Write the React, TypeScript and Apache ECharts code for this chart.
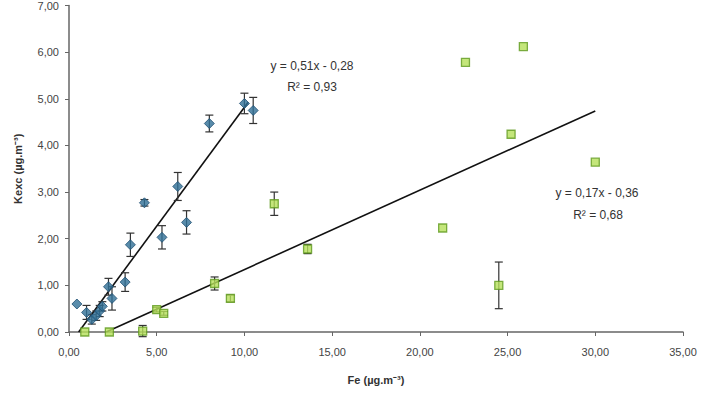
import React, { useEffect, useRef } from "react";
import * as echarts from "echarts";

// Series A (blue diamonds): Fe, Kexc, error half-width
const seriesAFe = [0.45, 1.0, 1.3, 1.55, 1.75, 1.9, 2.25, 2.45, 3.2, 3.5, 4.3, 5.3, 6.2, 6.7, 8.0, 10.0, 10.5];
const seriesAK = [0.6, 0.42, 0.27, 0.35, 0.45, 0.55, 0.97, 0.72, 1.07, 1.87, 2.77, 2.03, 3.12, 2.35, 4.47, 4.9, 4.75];
const seriesAErr = [0, 0.15, 0.1, 0.1, 0.12, 0.1, 0.18, 0.25, 0.2, 0.25, 0.07, 0.25, 0.3, 0.25, 0.18, 0.22, 0.28];

// Series B (green squares): Fe, Kexc, error half-width
const seriesBFe = [0.9, 2.3, 4.2, 5.0, 5.4, 8.3, 9.2, 11.7, 13.6, 21.3, 22.6, 24.5, 25.2, 25.9, 30.0];
const seriesBK = [0.0, 0.0, 0.02, 0.48, 0.4, 1.04, 0.72, 2.75, 1.78, 2.23, 5.78, 1.0, 4.24, 6.12, 3.64];
const seriesBErr = [0, 0, 0.12, 0.05, 0.04, 0.14, 0.07, 0.25, 0.1, 0, 0, 0.5, 0, 0, 0];

// Linear fits: slope, intercept, R², x range drawn
const fitA = { slope: 0.51, intercept: -0.28, r2: 0.93, xFrom: 0.55, xTo: 10.2 };
const fitB = { slope: 0.17, intercept: -0.36, r2: 0.68, xFrom: 2.12, xTo: 30.0 };

const xTicks = [0, 5, 10, 15, 20, 25, 30, 35];
const yTicks = [0, 1, 2, 3, 4, 5, 6, 7];

const fmt = (v: number) => v.toFixed(2).replace(".", ",");
const fitLabel = (f: { slope: number; intercept: number }) =>
  `y = ${fmt(f.slope)}x - ${fmt(Math.abs(f.intercept))}`;

const FONT = "'Liberation Sans', Arial, sans-serif";

function fitLine(f: typeof fitA) {
  return [
    [f.xFrom, f.slope * f.xFrom + f.intercept],
    [f.xTo, f.slope * f.xTo + f.intercept],
  ];
}

function errorBars(xs: number[], ys: number[], errs: number[]) {
  return xs
    .map((x, i) => [x, ys[i] - errs[i], ys[i] + errs[i]])
    .filter((d, i) => errs[i] > 0);
}

const renderErr = (params: any, api: any) => {
  const x = api.value(0);
  const lo = api.coord([x, api.value(1)]);
  const hi = api.coord([x, api.value(2)]);
  const cap = 4;
  const style = { stroke: "#333", lineWidth: 1.2 };
  return {
    type: "group",
    children: [
      { type: "line", shape: { x1: lo[0], y1: lo[1], x2: hi[0], y2: hi[1] }, style },
      { type: "line", shape: { x1: lo[0] - cap, y1: lo[1], x2: lo[0] + cap, y2: lo[1] }, style },
      { type: "line", shape: { x1: hi[0] - cap, y1: hi[1], x2: hi[0] + cap, y2: hi[1] }, style },
    ],
  };
};

export default function App() {
  const ref = useRef<HTMLDivElement>(null);

  useEffect(() => {
    if (!ref.current) return;
    const chart = echarts.init(ref.current, null, { renderer: "svg" });
    const axisText = { color: "#444", fontSize: 11, fontFamily: FONT };
    chart.setOption({
      animation: false,
      backgroundColor: "#ffffff",
      grid: { left: 69, right: 34, top: 5, bottom: 64 },
      xAxis: {
        type: "value",
        min: xTicks[0],
        max: xTicks[xTicks.length - 1],
        interval: 5,
        name: "Fe (µg.m⁻³)",
        nameLocation: "middle",
        nameGap: 42,
        nameTextStyle: { color: "#333", fontSize: 11, fontFamily: FONT, fontWeight: "bold" },
        axisLine: { lineStyle: { color: "#666", width: 1.5 } },
        axisTick: { show: true, length: 4, lineStyle: { color: "#666" } },
        axisLabel: { ...axisText, margin: 14, formatter: (v: number) => fmt(v) },
        splitLine: { show: false },
      },
      yAxis: {
        type: "value",
        min: yTicks[0],
        max: yTicks[yTicks.length - 1],
        interval: 1,
        name: "Kexc (µg.m⁻³)",
        nameLocation: "middle",
        nameGap: 46,
        nameTextStyle: { color: "#333", fontSize: 11, fontFamily: FONT, fontWeight: "bold" },
        axisLine: { show: true, lineStyle: { color: "#666", width: 1.5 } },
        axisTick: { show: true, length: 4, lineStyle: { color: "#666" } },
        axisLabel: { ...axisText, margin: 10, formatter: (v: number) => fmt(v) },
        splitLine: { show: false },
      },
      series: [
        {
          type: "line",
          data: fitLine(fitA),
          symbol: "none",
          lineStyle: { color: "#111", width: 1.6 },
          z: 3,
        },
        {
          type: "line",
          data: fitLine(fitB),
          symbol: "none",
          lineStyle: { color: "#111", width: 1.6 },
          z: 3,
        },
        {
          type: "custom",
          renderItem: renderErr,
          data: errorBars(seriesAFe, seriesAK, seriesAErr),
          encode: { x: 0, y: [1, 2] },
          z: 4,
        },
        {
          type: "custom",
          renderItem: renderErr,
          data: errorBars(seriesBFe, seriesBK, seriesBErr),
          encode: { x: 0, y: [1, 2] },
          z: 4,
        },
        {
          type: "scatter",
          data: seriesAFe.map((x, i) => [x, seriesAK[i]]),
          symbol: "diamond",
          symbolSize: 10,
          itemStyle: { color: "#2f6f96", borderColor: "#1f4f72", borderWidth: 1 },
          z: 5,
        },
        {
          type: "scatter",
          data: seriesBFe.map((x, i) => [x, seriesBK[i]]),
          symbol: "rect",
          symbolSize: 8,
          itemStyle: { color: "#b5e05a", borderColor: "#5f9a1e", borderWidth: 1.3 },
          z: 5,
        },
      ],
      graphic: [
        {
          type: "text",
          x: 312,
          y: 66,
          style: {
            text: fitLabel(fitA),
            fill: "#333",
            font: `12px ${FONT}`,
            textAlign: "center",
            textVerticalAlign: "middle",
          },
        },
        {
          type: "text",
          x: 312,
          y: 87,
          style: {
            text: `R² = ${fmt(fitA.r2)}`,
            fill: "#333",
            font: `12px ${FONT}`,
            textAlign: "center",
            textVerticalAlign: "middle",
          },
        },
        {
          type: "text",
          x: 597,
          y: 193,
          style: {
            text: fitLabel(fitB),
            fill: "#333",
            font: `12px ${FONT}`,
            textAlign: "center",
            textVerticalAlign: "middle",
          },
        },
        {
          type: "text",
          x: 598,
          y: 215,
          style: {
            text: `R² = ${fmt(fitB.r2)}`,
            fill: "#333",
            font: `12px ${FONT}`,
            textAlign: "center",
            textVerticalAlign: "middle",
          },
        },
      ],
    });
    return () => chart.dispose();
  }, []);

  return (
    <div
      ref={ref}
      style={{ position: "fixed", left: 0, top: 0, width: 717, height: 396, background: "#fff" }}
    />
  );
}
